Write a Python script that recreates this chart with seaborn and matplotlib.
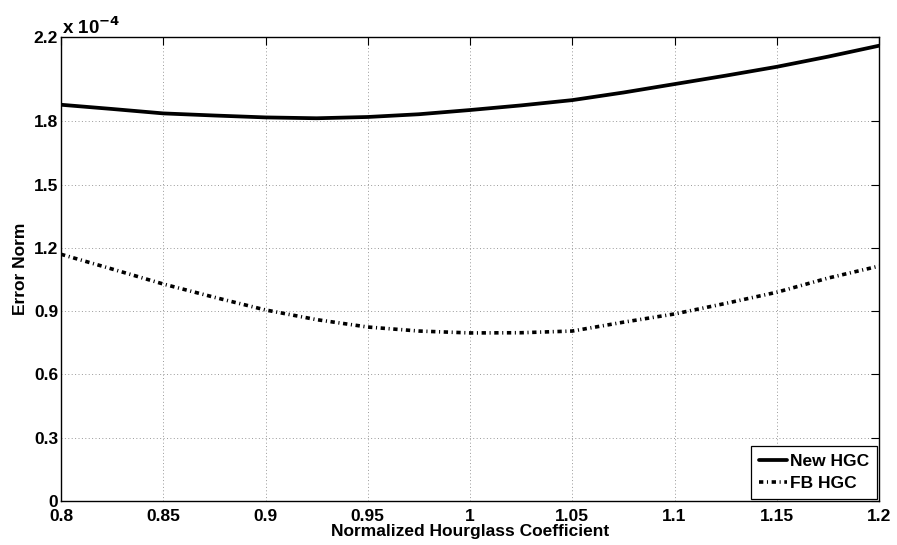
import numpy as np
import pandas as pd
import matplotlib
matplotlib.use("Agg")
import matplotlib.pyplot as plt
import seaborn as sns

# Data (Error Norm in units of 1e-4)
coef = [0.8, 0.825, 0.85, 0.875, 0.9, 0.925, 0.95, 0.975, 1.0,
        1.025, 1.05, 1.075, 1.1, 1.125, 1.15, 1.175, 1.2]
new_hgc = [1.879, 1.859, 1.838, 1.828, 1.819, 1.815, 1.821, 1.834, 1.854,
           1.876, 1.901, 1.937, 1.977, 2.017, 2.059, 2.107, 2.159]
fb_hgc = [1.170, 1.100, 1.029, 0.966, 0.906, 0.860, 0.825, 0.806, 0.797,
          0.798, 0.806, 0.848, 0.887, 0.937, 0.990, 1.057, 1.114]
xticks = [0.8, 0.85, 0.9, 0.95, 1.0, 1.05, 1.1, 1.15, 1.2]
xticklabels = ["0.8", "0.85", "0.9", "0.95", "1", "1.05", "1.1", "1.15", "1.2"]
yticks = [0, 0.3, 0.6, 0.9, 1.2, 1.5, 1.8, 2.2]
yticklabels = ["0", "0.3", "0.6", "0.9", "1.2", "1.5", "1.8", "2.2"]

FS = 12.5

sns.set_style("white")
plt.rcParams['font.family'] = ['Liberation Sans', 'DejaVu Sans']
plt.rcParams['font.weight'] = 'bold'
plt.rcParams['mathtext.default'] = 'bf'
plt.rcParams['text.color'] = 'black'
plt.rcParams['axes.labelcolor'] = 'black'
plt.rcParams['xtick.color'] = 'black'
plt.rcParams['ytick.color'] = 'black'

fig = plt.figure(figsize=(8.97, 5.45), dpi=100)
ax = fig.add_axes([0.068, 0.0807, 0.912, 0.8513])

df_new = pd.DataFrame({"x": coef, "y": new_hgc})
df_fb = pd.DataFrame({"x": coef, "y": fb_hgc})
sns.lineplot(data=df_new, x="x", y="y", ax=ax, color="black", lw=2.7,
             label="New HGC")
sns.lineplot(data=df_fb, x="x", y="y", ax=ax, color="black", lw=2.6,
             linestyle=(0, (1.2, 1.0, 0.3, 1.0)), label="FB HGC")
for ln in ax.lines:
    ln.set_dash_capstyle("butt")

ax.set_xlim(0.8, 1.2)
ax.set_ylim(0, 2.2)
ax.set_xticks(xticks)
ax.set_xticklabels(xticklabels)
ax.set_yticks(yticks)
ax.set_yticklabels(yticklabels)
ax.tick_params(direction="in", length=6, width=0.8, top=True, right=True,
               labelsize=FS, colors="black")
ax.tick_params(axis="x", pad=6)
ax.tick_params(axis="y", pad=2)
for lab in ax.get_xticklabels() + ax.get_yticklabels():
    lab.set_fontweight("bold")
ax.grid(True, linestyle=(0, (1, 2.5)), color="#999999", linewidth=0.7)
for s in ax.spines.values():
    s.set_color("black")
    s.set_linewidth(1.0)

ax.set_xlabel("Normalized Hourglass Coefficient", fontsize=FS,
              fontweight="bold", labelpad=0, color="black")
ax.set_ylabel("Error Norm", fontsize=FS, fontweight="bold", labelpad=4,
              color="black")

fig.text(0.068 + 0.001, 0.93, "x 10$^{-4}$", fontsize=FS + 1,
         fontweight="bold", ha="left", va="bottom", color="black")

leg = ax.legend(loc="lower right", frameon=True, fancybox=False,
                edgecolor="black", framealpha=1, borderaxespad=0.1,
                handlelength=1.6, handletextpad=0.2, borderpad=0.45,
                labelspacing=0.4,
                prop={"weight": "bold", "size": FS})
leg.get_frame().set_linewidth(0.9)
for t in leg.get_texts():
    t.set_color("black")

fig.savefig("out.png", dpi=100)
